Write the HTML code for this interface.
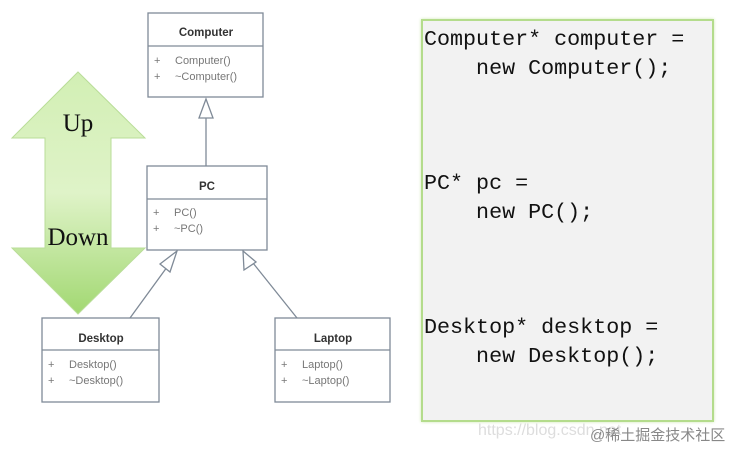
<!DOCTYPE html>
<html><head><meta charset="utf-8"><style>
body{margin:0;background:#fff;width:732px;height:449px;overflow:hidden;position:relative;font-family:"Liberation Sans",sans-serif}
.code{position:absolute;left:421px;top:19px;width:289px;height:399px;background:#f2f2f2;border:2px solid #b4dc8c;box-shadow:0 0 3px #cfe8b4}
.code pre{margin:0;position:absolute;left:1px;font-family:"Liberation Mono",monospace;font-size:21.7px;line-height:29px;color:#111}
.wm{position:absolute;left:478px;top:422px;font-size:16px;color:#ddd}
.wm2{position:absolute;left:590px;top:424px;font-size:15px;color:#888;font-family:"Liberation Sans","Noto Sans CJK SC",sans-serif}
</style></head><body>
<svg width="400" height="449" style="position:absolute;left:0;top:0">
<defs><linearGradient id="g" x1="0" y1="0" x2="0" y2="1">
<stop offset="0" stop-color="#d2efb4"/><stop offset="0.5" stop-color="#dff3c8"/><stop offset="1" stop-color="#a2d872"/></linearGradient></defs>
<polygon points="78,72 145,138 111,138 111,248 145,248 78,314 12,248 45,248 45,138 12,138" fill="url(#g)" stroke="#b9dd98" stroke-width="1"/>
<text x="78" y="131" font-family="Liberation Serif" font-size="25" text-anchor="middle" fill="#111">Up</text>
<text x="78" y="245" font-family="Liberation Serif" font-size="25" text-anchor="middle" fill="#111">Down</text>
<g stroke="#7f8a97" stroke-width="1.3" fill="#fff">
<line x1="206" y1="118" x2="206" y2="166"/>
<polygon points="206,99 199,118 213,118"/>
<line x1="130" y1="318" x2="170" y2="263"/>
<polygon points="177,251 160,264 170,272"/>
<line x1="297" y1="318" x2="253" y2="263"/>
<polygon points="243,251 244,270 256,262"/>
<rect x="148" y="13" width="115" height="84"/><line x1="148" y1="46" x2="263" y2="46"/>
<rect x="147" y="166" width="120" height="84"/><line x1="147" y1="199" x2="267" y2="199"/>
<rect x="42" y="318" width="117" height="84"/><line x1="42" y1="350" x2="159" y2="350"/>
<rect x="275" y="318" width="115" height="84"/><line x1="275" y1="350" x2="390" y2="350"/>
</g>
<g font-size="11.5" fill="#333" font-weight="bold" text-anchor="middle">
<text x="206" y="36">Computer</text><text x="207" y="190">PC</text>
<text x="101" y="342">Desktop</text><text x="333" y="342">Laptop</text></g>
<g font-size="11" fill="#777">
<text x="154" y="64">+</text><text x="175" y="64">Computer()</text>
<text x="154" y="80">+</text><text x="175" y="80">~Computer()</text>
<text x="153" y="216">+</text><text x="174" y="216">PC()</text>
<text x="153" y="232">+</text><text x="174" y="232">~PC()</text>
<text x="48" y="368">+</text><text x="69" y="368">Desktop()</text>
<text x="48" y="384">+</text><text x="69" y="384">~Desktop()</text>
<text x="281" y="368">+</text><text x="302" y="368">Laptop()</text>
<text x="281" y="384">+</text><text x="302" y="384">~Laptop()</text>
</g></svg>
<div class="code">
<pre style="top:4px">Computer* computer =
    new Computer();</pre>
<pre style="top:148px">PC* pc =
    new PC();</pre>
<pre style="top:292px">Desktop* desktop =
    new Desktop();</pre>
</div>
<div class="wm">https://blog.csdn.net</div>
<div class="wm2">@稀土掘金技术社区</div>
</body></html>
